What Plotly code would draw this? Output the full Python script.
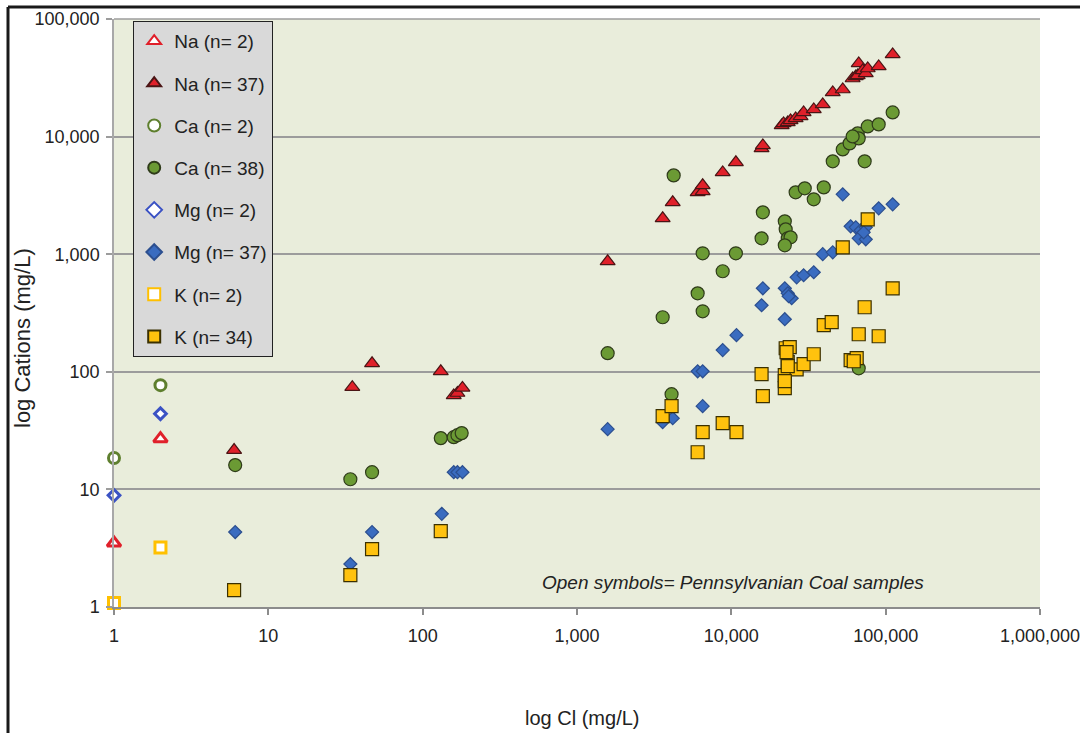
import plotly.graph_objects as go

# ---------------- data (Cl in mg/L, cation in mg/L) ----------------
na_open_cl = [1, 2]
na_open_val = [3.5, 27]
ca_open_cl = [1, 2]
ca_open_val = [18.5, 77]
mg_open_cl = [1, 2]
mg_open_val = [8.9, 44]
k_open_cl = [1, 2]
k_open_val = [1.08, 3.2]

na_cl = [6.0, 35, 47, 131, 159, 168, 181, 1580, 3590, 4170, 6050, 6520, 6520, 8790, 10700,
         15700, 16000, 21200, 21800, 23200, 24200, 26100, 28100, 29400, 34200, 39100, 45400,
         52700, 61100, 64000, 65900, 66900, 71000, 74300, 76500, 90100, 111000]
na_val = [21.6, 74, 118, 101, 63, 66, 73, 870, 2020, 2760, 3360, 3420, 3850, 4960, 6040,
          7940, 8420, 12450, 12950, 13200, 13740, 14280, 14850, 16060, 17030, 18770, 23740,
          25160, 31200, 32470, 33130, 41870, 36500, 34440, 37950, 39480, 49940]

ca_cl = [6.1, 34, 47, 131, 159, 168, 179, 1580, 3590, 4100, 4230, 6050, 6520, 6520, 8790,
         10700, 15700, 16000, 22200, 22500, 23200, 24200, 22200, 26100, 29900, 34200, 39700,
         45400, 52700, 58400, 65900, 66900, 73100, 76500, 90100, 111000, 66900, 61100]
ca_val = [16.1, 12.2, 14.0, 27.3, 27.8, 28.9, 30.1, 144, 291, 64.5, 4680, 465, 327, 1018, 716,
          1018, 1365, 2270, 1904, 1628, 1365, 1392, 1190, 3360, 3630, 2930, 3700,
          6160, 7780, 8760, 10650, 9660, 6160, 12210, 12700, 16060, 107, 10040]

mg_cl = [6.1, 34, 47, 133, 159, 168, 181, 1580, 3590, 4170, 6520, 6050, 6520, 8790, 10800,
         15700, 16000, 22200, 22200, 23200, 24600, 26500, 29400, 34200, 39100, 45400, 52700,
         59300, 64000, 68900, 66900, 74300, 74300, 90100, 111000, 23500, 72000]
mg_val = [4.34, 2.32, 4.34, 6.2, 14.0, 14.0, 14.0, 32.5, 37.3, 40.3, 51, 101, 101, 153, 205,
          368, 513, 280, 513, 465, 422, 636, 662, 702, 1000, 1038, 3230,
          1726, 1693, 1596, 1365, 1339, 1693, 2455, 2654, 439, 1535]

k_cl = [6.0, 34, 47, 131, 3590, 4100, 6050, 6520, 8790, 10800, 15700, 16000, 22200, 22200,
        22500, 23900, 23200, 26500, 29400, 34200, 39700, 44700, 52700, 59300, 64900, 66900,
        73100, 76500, 90100, 111000, 62100, 22800, 22200, 23200]
k_val = [1.39, 1.87, 3.11, 4.42, 42, 51, 20.7, 30.7, 36.6, 30.7, 95.5, 62.1, 72.6, 93.6,
         158.6, 161.8, 120.7, 105, 116, 141, 249, 264, 1145, 125.5, 130.6, 208.6,
         354, 1981, 200.6, 513, 123, 146.8, 83.2, 111.6]

x_tickvals = [1, 10, 100, 1000, 10000, 100000, 1000000]
x_ticktext = ["1", "10", "100", "1,000", "10,000", "100,000", "1,000,000"]
y_tickvals = [1, 10, 100, 1000, 10000, 100000]
y_ticktext = ["1", "10", "100", "1,000", "10,000", "100,000"]

legend_names = ["Na (n= 2)", "Na (n= 37)", "Ca (n= 2)", "Ca (n= 38)",
                "Mg (n= 2)", "Mg (n= 37)", "K (n= 2)", "K (n= 34)"]

x_title = "log Cl (mg/L)"
y_title = "log Cations (mg/L)"
note_text = "Open symbols= Pennsylvanian Coal samples"

# ---------------- styles ----------------
RED = "#E0202A"
GREEN = "#6B9A34"
GREEN_OPEN = "#5E7F2E"
BLUE = "#3A6CC0"
BLUE_OPEN = "#3B52C4"
YELLOW = "#FFC20E"
YELLOW_OPEN = "#FFC000"

FONT = "Liberation Sans, Arial, sans-serif"
TXT = "#222222"

fig = go.Figure()

def add_open(x, y, name, symbol, color, size):
    fig.add_trace(go.Scatter(
        x=x, y=y, mode="markers", name=name, legendgroup=name,
        marker=dict(symbol=symbol, size=size, color="white",
                    line=dict(color=color, width=3)),
        cliponaxis=False))

def add_filled(x, y, name, symbol, color, edge, size):
    fig.add_trace(go.Scatter(
        x=x, y=y, mode="markers", name=name, legendgroup=name,
        marker=dict(symbol=symbol, size=size, color=color,
                    line=dict(color=edge, width=1.2)),
        cliponaxis=False))

add_open(na_open_cl, na_open_val, legend_names[0], "triangle-up", RED, 12)
add_filled(na_cl, na_val, legend_names[1], "triangle-up", RED, "#4A1515", 13)
add_open(ca_open_cl, ca_open_val, legend_names[2], "circle", GREEN_OPEN, 11)
add_filled(ca_cl, ca_val, legend_names[3], "circle", GREEN, "#2F3B1A", 13)
add_open(mg_open_cl, mg_open_val, legend_names[4], "diamond", BLUE_OPEN, 9)
add_filled(mg_cl, mg_val, legend_names[5], "diamond", BLUE, "#2C4F8F", 10)
add_open(k_open_cl, k_open_val, legend_names[6], "square", YELLOW_OPEN, 11)
add_filled(k_cl, k_val, legend_names[7], "square", YELLOW, "#3B3000", 13)

L, R, T, B = 114, 40, 19, 126
W, H = 1080, 733
pw = W - L - R
ph = H - T - B

def px2paper_x(px):
    return (px - L) / pw

def py2paper_y(py):
    return (H - B - py) / ph

fig.update_layout(
    width=W, height=H,
    margin=dict(l=L, r=R, t=T, b=B, pad=0, autoexpand=False),
    paper_bgcolor="white",
    plot_bgcolor="#E9EDDB",
    font=dict(family=FONT, size=18, color=TXT),
    showlegend=True,
    legend=dict(
        x=px2paper_x(133), y=py2paper_y(21), xanchor="left", yanchor="top",
        bgcolor="#D9D9D9", bordercolor="#222222", borderwidth=1.2,
        font=dict(family=FONT, size=19, color=TXT),
        tracegroupgap=14.5, itemsizing="constant",
    ),
    xaxis=dict(
        type="log", range=[0, 6], tickvals=x_tickvals, ticktext=x_ticktext,
        showgrid=False, zeroline=False, showline=True, linecolor="#8C8C8C", linewidth=2,
        ticks="outside", ticklen=6, tickcolor="#8C8C8C", tickwidth=1.5,
        ticklabelstandoff=5, ticklabeloverflow="allow", automargin=False,
        tickfont=dict(family=FONT, size=18, color=TXT),
    ),
    yaxis=dict(
        type="log", range=[0, 5], tickvals=y_tickvals, ticktext=y_ticktext,
        showgrid=True, gridcolor="#9C9C9C", gridwidth=1.5,
        zeroline=False, showline=True, linecolor="#A8A8A8", linewidth=1.5,
        ticks="outside", ticklen=6, tickcolor="#9C9C9C", tickwidth=1.5,
        ticklabelstandoff=3, automargin=False,
        tickfont=dict(family=FONT, size=18, color=TXT),
    ),
    annotations=[
        dict(x=4.01, y=0.21, xref="x", yref="y", xanchor="center", yanchor="middle",
             text="<i>" + note_text + "</i>", showarrow=False,
             font=dict(family=FONT, size=19, color=TXT)),
        dict(x=px2paper_x(582), y=py2paper_y(718), xref="paper", yref="paper",
             xanchor="center", yanchor="middle", text=x_title, showarrow=False,
             font=dict(family=FONT, size=20, color=TXT)),
        dict(x=px2paper_x(22), y=py2paper_y(338), xref="paper", yref="paper",
             xanchor="center", yanchor="middle", text=y_title, showarrow=False,
             textangle=-90,
             font=dict(family=FONT, size=22, color=TXT)),
    ],
    shapes=[
        dict(type="line", xref="paper", yref="paper", layer="below",
             x0=0, x1=1, y0=1, y1=1,
             line=dict(color="#9C9C9C", width=1.5)),
        dict(type="line", xref="paper", yref="paper",
             x0=px2paper_x(8), x1=px2paper_x(1082), y0=py2paper_y(7), y1=py2paper_y(7),
             line=dict(color="#1A1A1A", width=3)),
        dict(type="line", xref="paper", yref="paper",
             x0=px2paper_x(8), x1=px2paper_x(8), y0=py2paper_y(7), y1=py2paper_y(735),
             line=dict(color="#1A1A1A", width=3)),
    ],
)

fig.write_html("out.html")
